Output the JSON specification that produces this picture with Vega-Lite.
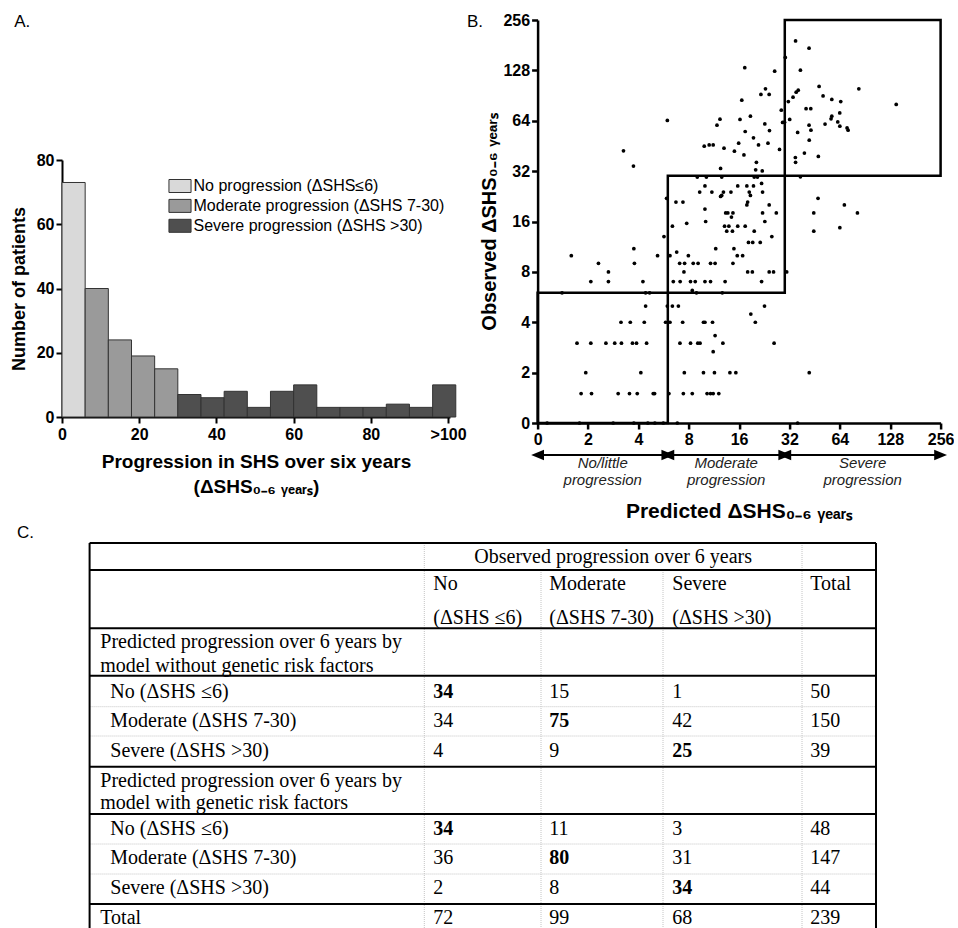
{
  "$schema": "https://vega.github.io/schema/vega-lite/v6.json",
  "autosize": {"type": "pad"},
  "padding": {"left": 10, "top": 12, "right": 0, "bottom": 0},
  "background": "white",
  "bounds": "flush",
  "spacing": 475.6,
  "hconcat": [
    {
      "bounds": "flush",
      "spacing": 126,
      "vconcat": [
        {
          "width": 388,
          "height": 397,
          "title": {"text": "A.", "anchor": "start", "frame": "bounds", "fontSize": 17, "fontWeight": "normal", "baseline": "middle", "offset": 1, "dx": 4, "dy": 20},
          "data": {"values": [
            {"lo": 0, "hi": 6, "n": 73, "grp": "No progression (ΔSHS≤6)"},
            {"lo": 6, "hi": 12, "n": 40, "grp": "Moderate progression (ΔSHS 7-30)"},
            {"lo": 12, "hi": 18, "n": 24, "grp": "Moderate progression (ΔSHS 7-30)"},
            {"lo": 18, "hi": 24, "n": 19, "grp": "Moderate progression (ΔSHS 7-30)"},
            {"lo": 24, "hi": 30, "n": 15, "grp": "Moderate progression (ΔSHS 7-30)"},
            {"lo": 30, "hi": 36, "n": 7, "grp": "Severe progression (ΔSHS >30)"},
            {"lo": 36, "hi": 42, "n": 6, "grp": "Severe progression (ΔSHS >30)"},
            {"lo": 42, "hi": 48, "n": 8, "grp": "Severe progression (ΔSHS >30)"},
            {"lo": 48, "hi": 54, "n": 3, "grp": "Severe progression (ΔSHS >30)"},
            {"lo": 54, "hi": 60, "n": 8, "grp": "Severe progression (ΔSHS >30)"},
            {"lo": 60, "hi": 66, "n": 10, "grp": "Severe progression (ΔSHS >30)"},
            {"lo": 66, "hi": 72, "n": 3, "grp": "Severe progression (ΔSHS >30)"},
            {"lo": 72, "hi": 78, "n": 3, "grp": "Severe progression (ΔSHS >30)"},
            {"lo": 78, "hi": 84, "n": 3, "grp": "Severe progression (ΔSHS >30)"},
            {"lo": 84, "hi": 90, "n": 4, "grp": "Severe progression (ΔSHS >30)"},
            {"lo": 90, "hi": 96, "n": 3, "grp": "Severe progression (ΔSHS >30)"},
            {"lo": 96, "hi": 102, "n": 10, "grp": "Severe progression (ΔSHS >30)"}
          ]},
          "mark": {"type": "rect", "stroke": "#333333", "strokeWidth": 1, "opacity": 1},
          "encoding": {
            "x": {"field": "lo", "type": "quantitative",
              "scale": {"domain": [0, 100.5], "nice": false, "zero": false},
              "axis": {"values": [0, 20, 40, 60, 80, 100], "labelExpr": "datum.value == 100 ? '>100' : datum.label",
                "title": ["Progression in SHS over six years", "(ΔSHS₀₋₆ ᵧₑₐᵣₛ)"], "titleFontSize": 19, "titleLineHeight": 25, "titlePadding": 10,
                "labelFontSize": 16, "tickSize": 6, "domainWidth": 2, "tickWidth": 2, "labelPadding": 3, "labelFlush": false}},
            "x2": {"field": "hi"},
            "y": {"field": "n", "type": "quantitative",
              "scale": {"domain": [0, 80], "range": [397, 140], "nice": false},
              "axis": {"values": [0, 20, 40, 60, 80], "title": "Number of patients", "titleFontSize": 18, "titlePadding": 8,
                "labelFontSize": 16, "tickSize": 6, "domainWidth": 2, "tickWidth": 2, "labelPadding": 2}},
            "y2": {"datum": 0},
            "color": {"field": "grp", "type": "nominal",
              "scale": {"domain": ["No progression (ΔSHS≤6)", "Moderate progression (ΔSHS 7-30)", "Severe progression (ΔSHS >30)"], "range": ["#d9d9d9", "#9a9a9a", "#4f4f4f"]},
              "legend": {"orient": "none", "legendX": 110, "legendY": 158, "title": null, "labelFontSize": 16, "labelFont": "Liberation Sans", "labelFontWeight": "normal", "labelColor": "#000",
                "symbolType": "M-1.7,-1H1.7V1H-1.7Z", "symbolSize": 169, "symbolStrokeColor": "#333333", "symbolStrokeWidth": 1, "symbolOpacity": 1,
                "labelOffset": 5.5, "rowPadding": 1.9, "padding": 0, "labelLimit": 400}}
          }
        },
        {
          "width": 814,
          "height": 385,
          "title": {"text": "C.", "anchor": "start", "frame": "group", "fontSize": 17, "fontWeight": "normal", "baseline": "middle", "offset": 11, "dx": -45, "dy": 19},
          "layer": [
            {
              "data": {"name": "grid", "values": [
                {"c1": 0, "c2": 12, "r1": 0, "r2": 0, "kind": "major"},
                {"c1": 0, "c2": 12, "r1": 2, "r2": 2, "kind": "major"},
                {"c1": 0, "c2": 12, "r1": 5, "r2": 5, "kind": "major"},
                {"c1": 0, "c2": 12, "r1": 8, "r2": 8, "kind": "major"},
                {"c1": 0, "c2": 12, "r1": 10, "r2": 10, "kind": "minor"},
                {"c1": 0, "c2": 12, "r1": 12, "r2": 12, "kind": "minor"},
                {"c1": 0, "c2": 12, "r1": 14, "r2": 14, "kind": "major"},
                {"c1": 0, "c2": 12, "r1": 17, "r2": 17, "kind": "major"},
                {"c1": 0, "c2": 12, "r1": 19, "r2": 19, "kind": "minor"},
                {"c1": 0, "c2": 12, "r1": 21, "r2": 21, "kind": "minor"},
                {"c1": 0, "c2": 12, "r1": 23, "r2": 23, "kind": "major"},
                {"c1": 0, "c2": 0, "r1": 0, "r2": 25, "kind": "major"},
                {"c1": 12, "c2": 12, "r1": 0, "r2": 25, "kind": "major"},
                {"c1": 3, "c2": 3, "r1": 0, "r2": 25, "kind": "minor"},
                {"c1": 6, "c2": 6, "r1": 2, "r2": 25, "kind": "minor"},
                {"c1": 8, "c2": 8, "r1": 2, "r2": 25, "kind": "minor"},
                {"c1": 10, "c2": 10, "r1": 0, "r2": 25, "kind": "minor"}
              ]},
              "transform": [{"filter": "datum.kind == 'minor'"}],
              "mark": {"type": "rule", "stroke": "#c4c4c4", "strokeWidth": 1, "strokeDash": [1, 1]},
              "encoding": {
                "x": {"field": "c1", "type": "quantitative", "scale": {"domain": [0,1,2,3,4,5,6,7,8,9,10,11,12], "range": [27.6,38.3,48.3,362.3,371.3,412.3,479,487.3,601,610.3,740,748.3,814], "nice": false, "zero": false}, "axis": null},
                "x2": {"field": "c2"},
                "y": {"field": "r1", "type": "quantitative", "scale": {"domain": [0,1,2,3,4,5,6,7,8,9,10,11,12,13,14,15,16,17,18,19,20,21,22,23,24,25], "range": [0,20.3,27,47,81,85.3,105.3,128.7,132.7,154.7,163.7,183.7,193,213.7,223.7,243.7,266.3,271,292,301,321.3,331,351,361,381,385], "nice": false, "zero": false}, "axis": null},
                "y2": {"field": "r2"}
              }
            },
            {
              "data": {"name": "grid"},
              "transform": [{"filter": "datum.kind == 'major'"}],
              "mark": {"type": "rule", "stroke": "#000000", "strokeWidth": 2},
              "encoding": {
                "x": {"field": "c1", "type": "quantitative"},
                "x2": {"field": "c2"},
                "y": {"field": "r1", "type": "quantitative"},
                "y2": {"field": "r2"}
              }
            },
            {
              "data": {"name": "cells", "values": [
                {"t": "Observed progression over 6 years", "col": 5, "row": 1, "bold": false},
                {"t": "No", "col": 4, "row": 3, "bold": false},
                {"t": "Moderate", "col": 7, "row": 3, "bold": false},
                {"t": "Severe", "col": 9, "row": 3, "bold": false},
                {"t": "Total", "col": 11, "row": 3, "bold": false},
                {"t": "(ΔSHS ≤6)", "col": 4, "row": 4, "bold": false},
                {"t": "(ΔSHS 7-30)", "col": 7, "row": 4, "bold": false},
                {"t": "(ΔSHS >30)", "col": 9, "row": 4, "bold": false},
                {"t": "Predicted progression over 6 years by", "col": 1, "row": 6, "bold": false},
                {"t": "model without genetic risk factors", "col": 1, "row": 7, "bold": false},
                {"t": "No (ΔSHS ≤6)", "col": 2, "row": 9, "bold": false},
                {"t": "34", "col": 4, "row": 9, "bold": true},
                {"t": "15", "col": 7, "row": 9, "bold": false},
                {"t": "1", "col": 9, "row": 9, "bold": false},
                {"t": "50", "col": 11, "row": 9, "bold": false},
                {"t": "Moderate (ΔSHS 7-30)", "col": 2, "row": 11, "bold": false},
                {"t": "34", "col": 4, "row": 11, "bold": false},
                {"t": "75", "col": 7, "row": 11, "bold": true},
                {"t": "42", "col": 9, "row": 11, "bold": false},
                {"t": "150", "col": 11, "row": 11, "bold": false},
                {"t": "Severe (ΔSHS >30)", "col": 2, "row": 13, "bold": false},
                {"t": "4", "col": 4, "row": 13, "bold": false},
                {"t": "9", "col": 7, "row": 13, "bold": false},
                {"t": "25", "col": 9, "row": 13, "bold": true},
                {"t": "39", "col": 11, "row": 13, "bold": false},
                {"t": "Predicted progression over 6 years by", "col": 1, "row": 15, "bold": false},
                {"t": "model with genetic risk factors", "col": 1, "row": 16, "bold": false},
                {"t": "No (ΔSHS ≤6)", "col": 2, "row": 18, "bold": false},
                {"t": "34", "col": 4, "row": 18, "bold": true},
                {"t": "11", "col": 7, "row": 18, "bold": false},
                {"t": "3", "col": 9, "row": 18, "bold": false},
                {"t": "48", "col": 11, "row": 18, "bold": false},
                {"t": "Moderate (ΔSHS 7-30)", "col": 2, "row": 20, "bold": false},
                {"t": "36", "col": 4, "row": 20, "bold": false},
                {"t": "80", "col": 7, "row": 20, "bold": true},
                {"t": "31", "col": 9, "row": 20, "bold": false},
                {"t": "147", "col": 11, "row": 20, "bold": false},
                {"t": "Severe (ΔSHS >30)", "col": 2, "row": 22, "bold": false},
                {"t": "2", "col": 4, "row": 22, "bold": false},
                {"t": "8", "col": 7, "row": 22, "bold": false},
                {"t": "34", "col": 9, "row": 22, "bold": true},
                {"t": "44", "col": 11, "row": 22, "bold": false},
                {"t": "Total", "col": 1, "row": 24, "bold": false},
                {"t": "72", "col": 4, "row": 24, "bold": false},
                {"t": "99", "col": 7, "row": 24, "bold": false},
                {"t": "68", "col": 9, "row": 24, "bold": false},
                {"t": "239", "col": 11, "row": 24, "bold": false}
              ]},
              "transform": [{"filter": "!datum.bold"}],
              "mark": {"type": "text", "font": "Liberation Serif", "fontSize": 20, "align": "left", "baseline": "alphabetic", "color": "#000000"},
              "encoding": {
                "x": {"field": "col", "type": "quantitative"},
                "y": {"field": "row", "type": "quantitative"},
                "text": {"field": "t"}
              }
            },
            {
              "data": {"name": "cells"},
              "transform": [{"filter": "datum.bold"}],
              "mark": {"type": "text", "font": "Liberation Serif", "fontSize": 20, "fontWeight": "bold", "align": "left", "baseline": "alphabetic", "color": "#000000"},
              "encoding": {
                "x": {"field": "col", "type": "quantitative"},
                "y": {"field": "row", "type": "quantitative"},
                "text": {"field": "t"}
              }
            }
          ]
        }
      ]
    },
    {
      "bounds": "flush",
      "spacing": 22,
      "vconcat": [
        {
          "width": 403,
          "height": 403,
          "title": {"text": "B.", "anchor": "start", "frame": "bounds", "fontSize": 17, "fontWeight": "normal", "baseline": "middle", "offset": -7, "dx": -13, "dy": 20},
          "layer": [
            {
              "data": {"values": [
                {"x1": 1, "x2": 6, "y1": 1, "y2": 6},
                {"x1": 6, "x2": 30, "y1": 6, "y2": 30},
                {"x1": 30, "x2": 256, "y1": 30, "y2": 256}
              ]},
              "mark": {"type": "rect", "fill": null, "fillOpacity": 0, "stroke": "#000000", "strokeWidth": 2.5},
              "encoding": {
                "x": {"field": "x1", "type": "quantitative", "scale": {"type": "log", "base": 2, "domain": [1, 256], "nice": false}},
                "x2": {"field": "x2"},
                "y": {"field": "y1", "type": "quantitative", "scale": {"type": "log", "base": 2, "domain": [1, 256], "nice": false}},
                "y2": {"field": "y2"}
              }
            },
            {
              "data": {"values": [
                {"pred": 1.82, "obs": 1.5}, {"pred": 2.1, "obs": 1.5}, {"pred": 3.03, "obs": 1.5}, {"pred": 3.54, "obs": 1.5}, {"pred": 3.94, "obs": 1.5}, {"pred": 4.91, "obs": 1.5}, {"pred": 5.0, "obs": 1.5}, {"pred": 6.09, "obs": 1.5}, {"pred": 7.43, "obs": 1.5}, {"pred": 8.4, "obs": 1.5}, {"pred": 10.3, "obs": 1.5}, {"pred": 10.8, "obs": 1.5}, {"pred": 11.2, "obs": 1.5}, {"pred": 12.1, "obs": 1.5},
                {"pred": 1.94, "obs": 2}, {"pred": 4.14, "obs": 2}, {"pred": 7.53, "obs": 2}, {"pred": 9.8, "obs": 2}, {"pred": 11.4, "obs": 2}, {"pred": 14.1, "obs": 2}, {"pred": 15.3, "obs": 2}, {"pred": 42, "obs": 2},
                {"pred": 11.2, "obs": 2.67}, {"pred": 11.5, "obs": 3.33},
                {"pred": 1.72, "obs": 3}, {"pred": 2.08, "obs": 3}, {"pred": 2.56, "obs": 3}, {"pred": 2.89, "obs": 3}, {"pred": 3.17, "obs": 3}, {"pred": 3.69, "obs": 3}, {"pred": 3.9, "obs": 3}, {"pred": 4.48, "obs": 3}, {"pred": 7.09, "obs": 3}, {"pred": 8.2, "obs": 3}, {"pred": 9.06, "obs": 3}, {"pred": 9.35, "obs": 3}, {"pred": 12.8, "obs": 3}, {"pred": 25.9, "obs": 3},
                {"pred": 3.15, "obs": 4}, {"pred": 3.58, "obs": 4}, {"pred": 4.34, "obs": 4}, {"pred": 5.82, "obs": 4}, {"pred": 6.18, "obs": 4}, {"pred": 7.36, "obs": 4}, {"pred": 9.8, "obs": 4}, {"pred": 10.0, "obs": 4}, {"pred": 11.1, "obs": 4}, {"pred": 20.0, "obs": 4},
                {"pred": 18.8, "obs": 4.48},
                {"pred": 4.42, "obs": 5}, {"pred": 5.96, "obs": 5}, {"pred": 6.39, "obs": 5}, {"pred": 6.94, "obs": 5}, {"pred": 22.7, "obs": 5},
                {"pred": 1.4, "obs": 6}, {"pred": 4.42, "obs": 6}, {"pred": 4.67, "obs": 6}, {"pred": 8.9, "obs": 6}, {"pred": 12.7, "obs": 6}, {"pred": 8.4, "obs": 6.2},
                {"pred": 2.08, "obs": 7}, {"pred": 2.65, "obs": 7}, {"pred": 4.26, "obs": 7}, {"pred": 6.47, "obs": 7}, {"pred": 7.11, "obs": 7}, {"pred": 8.2, "obs": 7}, {"pred": 8.75, "obs": 7}, {"pred": 10.0, "obs": 7}, {"pred": 10.8, "obs": 7}, {"pred": 13.2, "obs": 7}, {"pred": 21.8, "obs": 7},
                {"pred": 2.65, "obs": 8}, {"pred": 7.49, "obs": 8}, {"pred": 18.0, "obs": 8}, {"pred": 19.2, "obs": 8}, {"pred": 24.2, "obs": 8}, {"pred": 25.7, "obs": 8}, {"pred": 30.8, "obs": 8},
                {"pred": 2.31, "obs": 9}, {"pred": 3.79, "obs": 9}, {"pred": 7.06, "obs": 9}, {"pred": 7.56, "obs": 9}, {"pred": 8.51, "obs": 9}, {"pred": 9.1, "obs": 9}, {"pred": 10.8, "obs": 9}, {"pred": 11.5, "obs": 9}, {"pred": 14.7, "obs": 9},
                {"pred": 1.59, "obs": 10}, {"pred": 5.21, "obs": 10}, {"pred": 6.18, "obs": 10}, {"pred": 7.96, "obs": 10}, {"pred": 15.6, "obs": 10}, {"pred": 16.8, "obs": 10}, {"pred": 6.78, "obs": 10.5},
                {"pred": 3.76, "obs": 11}, {"pred": 11.6, "obs": 11}, {"pred": 14.9, "obs": 11},
                {"pred": 18.2, "obs": 12}, {"pred": 19.3, "obs": 12}, {"pred": 21.4, "obs": 12},
                {"pred": 5.69, "obs": 13}, {"pred": 25.1, "obs": 13},
                {"pred": 13.5, "obs": 14}, {"pred": 14.6, "obs": 14}, {"pred": 19.7, "obs": 14}, {"pred": 44.7, "obs": 14},
                {"pred": 64, "obs": 14.7},
                {"pred": 6.39, "obs": 15}, {"pred": 13.1, "obs": 15}, {"pred": 13.9, "obs": 15}, {"pred": 15.7, "obs": 15}, {"pred": 17.4, "obs": 15},
                {"pred": 7.78, "obs": 15.6},
                {"pred": 10.1, "obs": 16}, {"pred": 22.8, "obs": 16},
                {"pred": 14.4, "obs": 17},
                {"pred": 13.3, "obs": 18}, {"pred": 13.7, "obs": 18}, {"pred": 14.7, "obs": 18}, {"pred": 22.1, "obs": 18}, {"pred": 26.7, "obs": 18}, {"pred": 44.7, "obs": 18}, {"pred": 81.5, "obs": 18},
                {"pred": 10.0, "obs": 19},
                {"pred": 17.8, "obs": 20.1}, {"pred": 24.2, "obs": 20.1}, {"pred": 68.1, "obs": 20.1},
                {"pred": 6.71, "obs": 20.9}, {"pred": 7.39, "obs": 20.9}, {"pred": 18.0, "obs": 20.9},
                {"pred": 5.9, "obs": 22}, {"pred": 47.4, "obs": 22},
                {"pred": 12.6, "obs": 22.9}, {"pred": 18.7, "obs": 22.9}, {"pred": 12.4, "obs": 22.6},
                {"pred": 9.3, "obs": 24}, {"pred": 11.0, "obs": 24}, {"pred": 12.9, "obs": 24}, {"pred": 14.3, "obs": 24}, {"pred": 18.4, "obs": 24}, {"pred": 22.1, "obs": 24},
                {"pred": 10.0, "obs": 26.1}, {"pred": 15.7, "obs": 26.1}, {"pred": 17.8, "obs": 26.1}, {"pred": 19.5, "obs": 26.1},
                {"pred": 21.8, "obs": 27},
                {"pred": 9.0, "obs": 29.5}, {"pred": 10.2, "obs": 29.5}, {"pred": 12.6, "obs": 29.5}, {"pred": 19.7, "obs": 29.5}, {"pred": 20.6, "obs": 29.5}, {"pred": 37.2, "obs": 29.6},
                {"pred": 12.4, "obs": 33.2}, {"pred": 20.1, "obs": 32.6}, {"pred": 22.0, "obs": 32.1},
                {"pred": 3.74, "obs": 34.3},
                {"pred": 20.3, "obs": 36.1}, {"pred": 34.8, "obs": 36.1},
                {"pred": 34.7, "obs": 38.6}, {"pred": 47.6, "obs": 39.2}, {"pred": 17.1, "obs": 40}, {"pred": 39.3, "obs": 41}, {"pred": 15.0, "obs": 42.1}, {"pred": 3.26, "obs": 42.3}, {"pred": 27.9, "obs": 43.1}, {"pred": 13.0, "obs": 43.9}, {"pred": 9.9, "obs": 45.1}, {"pred": 10.6, "obs": 45.9},
                {"pred": 11.2, "obs": 45.9}, {"pred": 20.9, "obs": 45.9}, {"pred": 15.9, "obs": 47}, {"pred": 23.8, "obs": 47}, {"pred": 42, "obs": 49}, {"pred": 19.5, "obs": 50.6}, {"pred": 35.8, "obs": 54.5}, {"pred": 17.4, "obs": 55.2}, {"pred": 24.3, "obs": 55.9}, {"pred": 43.0, "obs": 56.2},
                {"pred": 70.7, "obs": 58}, {"pred": 71.7, "obs": 56.2}, {"pred": 64, "obs": 59.4}, {"pred": 11.8, "obs": 60.2}, {"pred": 41.9, "obs": 60.2}, {"pred": 52.2, "obs": 61.1}, {"pred": 22.8, "obs": 61.3}, {"pred": 29.1, "obs": 62.5}, {"pred": 29.9, "obs": 62.8}, {"pred": 62.2, "obs": 63},
                {"pred": 5.96, "obs": 64.3}, {"pred": 16.2, "obs": 65.2}, {"pred": 32.1, "obs": 65.2}, {"pred": 12.3, "obs": 65.4}, {"pred": 56.7, "obs": 65.7}, {"pred": 18.7, "obs": 68.2}, {"pred": 57.3, "obs": 68.2}, {"pred": 63.9, "obs": 71.3}, {"pred": 28.6, "obs": 74}, {"pred": 40.2, "obs": 75.6},
                {"pred": 42.9, "obs": 75.6}, {"pred": 139, "obs": 80.1}, {"pred": 31.5, "obs": 83.4}, {"pred": 64.8, "obs": 83.4}, {"pred": 16.6, "obs": 85}, {"pred": 57.3, "obs": 85.8}, {"pred": 33.6, "obs": 88.5}, {"pred": 50.8, "obs": 90.1}, {"pred": 21.6, "obs": 92}, {"pred": 24.2, "obs": 92},
                {"pred": 35.1, "obs": 94.8}, {"pred": 36.1, "obs": 97.5}, {"pred": 23.0, "obs": 99.3}, {"pred": 83.1, "obs": 99.3}, {"pred": 48.1, "obs": 102.6}, {"pred": 26.1, "obs": 126.6}, {"pred": 37.2, "obs": 128.4}, {"pred": 17.3, "obs": 132.9}, {"pred": 30.2, "obs": 152.9}, {"pred": 41.9, "obs": 173.7},
                {"pred": 34.8, "obs": 192},
                {"pred": 1.14, "obs": 1}, {"pred": 1.78, "obs": 1}, {"pred": 2.83, "obs": 1}, {"pred": 3.76, "obs": 1}, {"pred": 4.56, "obs": 1}, {"pred": 5.02, "obs": 1}, {"pred": 5.64, "obs": 1}, {"pred": 6.84, "obs": 1}, {"pred": 35.8, "obs": 1}
              ]},
              "mark": {"type": "circle", "size": 14, "color": "#000000", "opacity": 1},
              "encoding": {
                "x": {"field": "pred", "type": "quantitative",
                  "scale": {"type": "log", "base": 2, "domain": [1, 256], "nice": false},
                  "axis": {"values": [1, 2, 4, 8, 16, 32, 64, 128, 256], "labelExpr": "datum.value == 1 ? '0' : format(datum.value, 'd')", "title": null,
                    "labelFontSize": 16, "tickSize": 6, "domainWidth": 2.5, "tickWidth": 2.5, "labelPadding": 2, "labelFlush": false, "labelOverlap": false}},
                "y": {"field": "obs", "type": "quantitative",
                  "scale": {"type": "log", "base": 2, "domain": [1, 256], "nice": false},
                  "axis": {"values": [1, 2, 4, 8, 16, 32, 64, 128, 256], "labelExpr": "datum.value == 1 ? '0' : format(datum.value, 'd')", "title": "Observed  ΔSHS₀₋₆ ᵧₑₐᵣₛ",
                    "titleFontSize": 20, "titlePadding": 3, "labelFontSize": 16, "tickSize": 6, "domainWidth": 2.5, "tickWidth": 2.5, "labelPadding": 2, "labelFlush": false, "labelOverlap": false}}
              }
            }
          ]
        },
        {
          "width": 403,
          "height": 20,
          "data": {"values": [
            {"from": 1, "to": 6, "mid": 2.45, "zone": "No/little\nprogression"},
            {"from": 6, "to": 30, "mid": 13.4, "zone": "Moderate\nprogression"},
            {"from": 30, "to": 256, "mid": 87.6, "zone": "Severe\nprogression"}
          ]},
          "layer": [
            {
              "mark": {"type": "rule", "stroke": "#000000", "strokeWidth": 2},
              "encoding": {
                "x": {"field": "from", "type": "quantitative", "scale": {"type": "log", "base": 2, "domain": [1, 256], "nice": false},
                  "axis": {"title": "Predicted ΔSHS₀₋₆ ᵧₑₐᵣₛ", "titleFontSize": 21, "titlePadding": 35, "labels": false, "ticks": false, "domain": false}},
                "x2": {"field": "to"}
              }
            },
            {
              "mark": {"type": "point", "shape": "M1.2,-1L-1.2,0L1.2,1Z", "size": 114, "filled": true, "color": "#000000", "opacity": 1, "dx": 6},
              "encoding": {"x": {"field": "from", "type": "quantitative"}}
            },
            {
              "mark": {"type": "point", "shape": "M-1.2,-1L1.2,0L-1.2,1Z", "size": 114, "filled": true, "color": "#000000", "opacity": 1, "dx": -6},
              "encoding": {"x": {"field": "to", "type": "quantitative"}}
            },
            {
              "mark": {"type": "text", "font": "Liberation Sans", "fontSize": 15, "fontStyle": "italic", "lineBreak": "\n", "lineHeight": 17, "baseline": "top", "align": "center", "dy": 1, "color": "#222222"},
              "encoding": {"x": {"field": "mid", "type": "quantitative"}, "text": {"field": "zone"}}
            }
          ]
        }
      ]
    }
  ],
  "config": {
    "font": "Liberation Sans",
    "view": {"stroke": null},
    "axis": {"grid": false, "domainColor": "#000000", "tickColor": "#000000", "labelColor": "#000000", "titleColor": "#000000",
      "labelFont": "Liberation Sans", "titleFont": "Liberation Sans", "labelFontWeight": "bold", "titleFontWeight": "bold"},
    "title": {"font": "Liberation Sans", "color": "#000000"}
  }
}
